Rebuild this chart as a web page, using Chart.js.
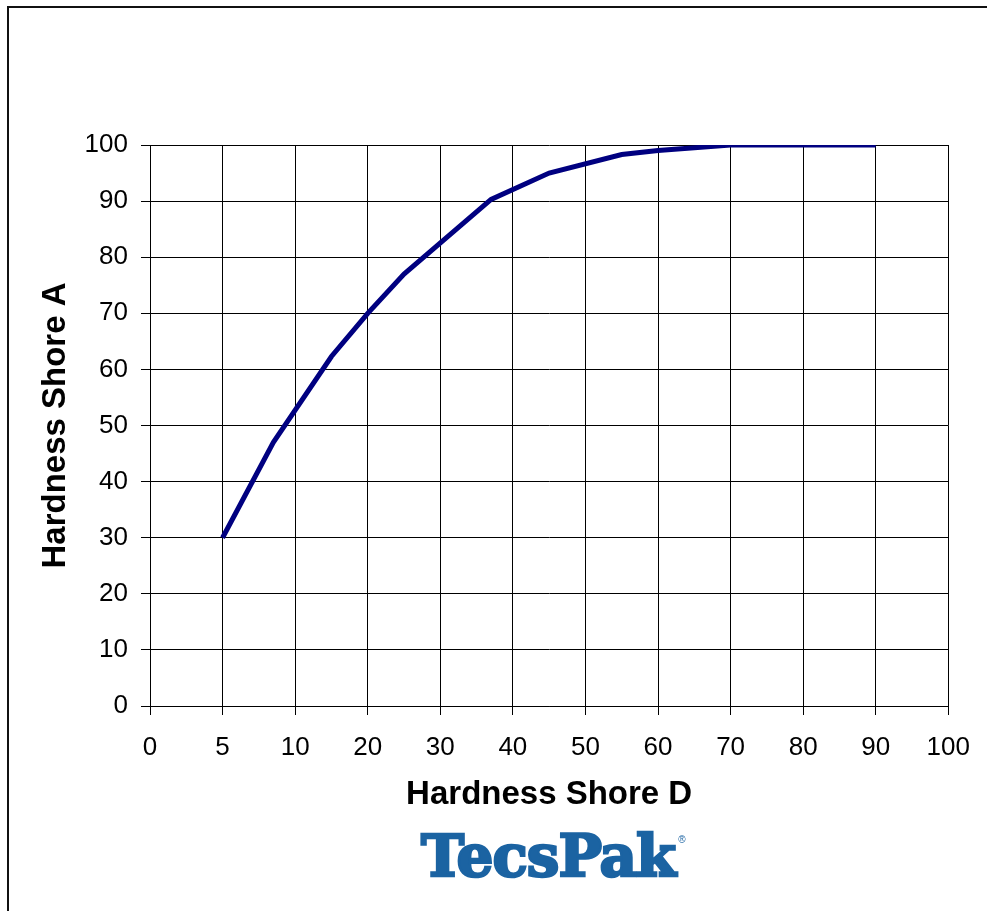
<!DOCTYPE html>
<html>
<head>
<meta charset="utf-8">
<script src="https://cdn.jsdelivr.net/npm/chart.js@4"></script>
<style>
  html, body { margin: 0; padding: 0; background: #fff; overflow: hidden; }
  #wrap { position: absolute; left: 0; top: 0; width: 987px; height: 911px; }
  #frame { position: absolute; left: 7px; top: 6px; width: 1100px; height: 1100px;
           border-left: 2px solid #111; border-top: 2px solid #111; }
  #logo { position: absolute; left: 421px; top: 822px; font-family: "DejaVu Serif", serif;
          font-weight: bold; font-size: 58px; color: #1b63a2; letter-spacing: -1px;
          -webkit-text-stroke: 2.5px #1b63a2; white-space: nowrap; }
  #logo sup { font-family: "Liberation Sans", Arial, sans-serif; font-size: 10px;
              font-weight: normal; -webkit-text-stroke: 0; vertical-align: top;
              position: relative; top: 12px; left: 3px; }
</style>
</head>
<body>
<div id="wrap">
  <div id="frame"></div>
  <canvas id="myChart" width="987" height="911"></canvas>
  <div id="logo">TecsPak<sup>®</sup></div>
</div>
<script>
const tickLabels = [0, 5, 10, 20, 30, 40, 50, 60, 70, 80, 90, 100];
const shoreD = [5, 8.5, 15, 20, 25, 37, 45, 55, 60, 70, 90];
const shoreA = [30, 47, 62.3, 70, 77, 90.3, 95, 98.3, 99, 100, 100];

// x axis is evenly spaced by label (Excel category style), so map Shore D onto label index
function axisPos(d) {
  for (let i = 0; i < tickLabels.length - 1; i++) {
    const a = tickLabels[i], b = tickLabels[i + 1];
    if (d >= a && d <= b) return i + (d - a) / (b - a);
  }
  return tickLabels.length - 1;
}

const font = "'Liberation Sans', Arial, sans-serif";
const ctx = document.getElementById('myChart').getContext('2d');

const myChart = new Chart(ctx, {
  type: 'line',
  data: {
    datasets: [{
      data: shoreD.map((d, i) => ({ x: axisPos(d), y: shoreA[i] })),
      borderColor: '#000080',
      borderWidth: 5,
      pointRadius: 0,
      tension: 0,
      fill: false
    }]
  },
  options: {
    responsive: false,
    animation: false,
    layout: { padding: { left: 20, top: 145, right: 34, bottom: 96 } },
    plugins: { legend: { display: false }, tooltip: { enabled: false } },
    scales: {
      x: {
        type: 'linear',
        min: 0,
        max: tickLabels.length - 1,
        afterFit: s => { s.height = 109; },
        ticks: {
          stepSize: 1,
          autoSkip: false,
          maxRotation: 0,
          padding: 17,
          color: '#000',
          font: { family: font, size: 26 },
          callback: v => tickLabels[v]
        },
        grid: { color: '#000', lineWidth: 1, tickLength: 9 },
        border: { color: '#000', width: 1 },
        title: {
          display: true,
          text: 'Hardness Shore D',
          color: '#000',
          font: { family: font, size: 33, weight: 'bold' },
          padding: { top: 0, bottom: 0 }
        }
      },
      y: {
        min: 0,
        max: 100,
        afterFit: s => { s.width = 130; },
        ticks: {
          stepSize: 10,
          padding: 13,
          color: '#000',
          font: { family: font, size: 26 }
        },
        grid: { color: '#000', lineWidth: 1, tickLength: 9 },
        border: { color: '#000', width: 1 },
        title: {
          display: true,
          text: 'Hardness Shore A',
          color: '#000',
          font: { family: font, size: 33, weight: 'bold' },
          padding: { top: 16, bottom: 0 }
        }
      }
    }
  }
});
</script>
</body>
</html>
